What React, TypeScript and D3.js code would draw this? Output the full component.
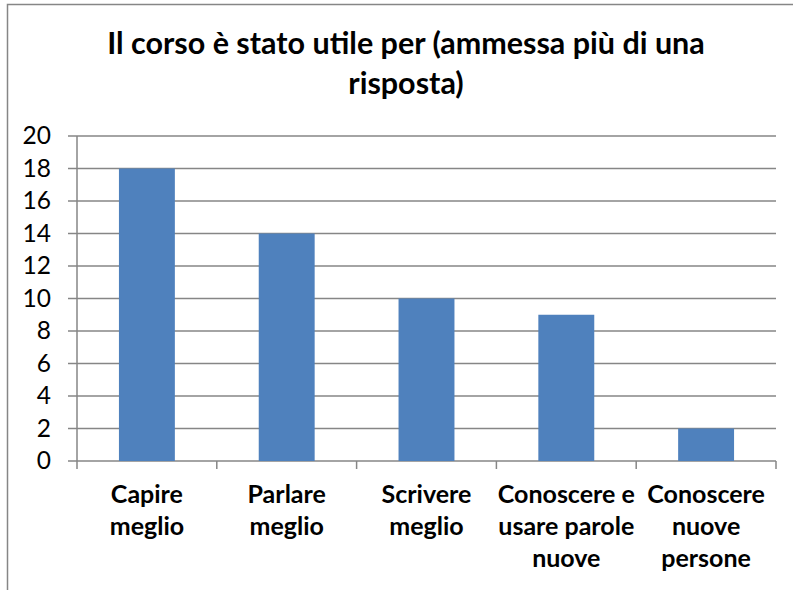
import React from "react";
import * as d3 from "d3";

const categories: string[][] = [
  ["Capire", "meglio"],
  ["Parlare", "meglio"],
  ["Scrivere", "meglio"],
  ["Conoscere e", "usare parole", "nuove"],
  ["Conoscere", "nuove", "persone"],
];
const values: number[] = [18, 14, 10, 9, 2];
const yTicks: number[] = [0, 2, 4, 6, 8, 10, 12, 14, 16, 18, 20];
const titleLines: string[] = ["Il corso è stato utile per (ammessa più di una", "risposta)"];

const W = 793;
const H = 590;
const FONT = "Lato, 'Open Sans', sans-serif";

export default function App() {
  const left = 77, right = 776, top = 136, bottom = 461;
  const x = d3.scaleBand<number>().domain(d3.range(values.length)).range([left, right]).paddingInner(0.6).paddingOuter(0.3);
  const xb = d3.scaleBand<number>().domain(d3.range(values.length)).range([left, right]);
  const y = d3.scaleLinear().domain([0, 20]).range([bottom, top]);
  const grid = "#868686";
  const bounds = d3.range(values.length + 1).map((i) => left + (i * (right - left)) / values.length);
  return (
    <svg width={W} height={H} style={{ position: "absolute", left: 0, top: 0 }} fontFamily={FONT}>
      <rect x={0} y={0} width={W} height={H} fill="#fff" />
      <rect x={7.5} y={4.5} width={W + 20} height={H + 20} fill="none" stroke={grid} strokeWidth={1.5} />
      {titleLines.map((t, i) => (
        <text key={i} x={406} y={54 + i * 40} textAnchor="middle" fontSize={30.5} fontWeight="bold" fill="#000">
          {t}
        </text>
      ))}
      {yTicks.map((v) => (
        <g key={v}>
          <line x1={68} x2={right} y1={y(v)} y2={y(v)} stroke={grid} strokeWidth={1.5} />
          <text x={51} y={y(v) + 8} textAnchor="end" fontSize={24.5} fill="#000">
            {v}
          </text>
        </g>
      ))}
      {values.map((v, i) => (
        <rect key={i} x={x(i)} y={y(v)} width={x.bandwidth()} height={y(0) - y(v)} fill="#4F81BD" />
      ))}
      <line x1={left} x2={left} y1={top} y2={bottom + 8} stroke={grid} strokeWidth={1.5} />
      {bounds.slice(1).map((b, i) => (
        <line key={i} x1={b} x2={b} y1={bottom} y2={bottom + 8} stroke={grid} strokeWidth={1.5} />
      ))}
      {categories.map((lines, i) => (
        <text key={i} textAnchor="middle" fontSize={25} fontWeight="bold" fill="#000">
          {lines.map((l, j) => (
            <tspan key={j} x={(xb(i) as number) + xb.bandwidth() / 2} y={503 + j * 32}>
              {l}
            </tspan>
          ))}
        </text>
      ))}
    </svg>
  );
}
